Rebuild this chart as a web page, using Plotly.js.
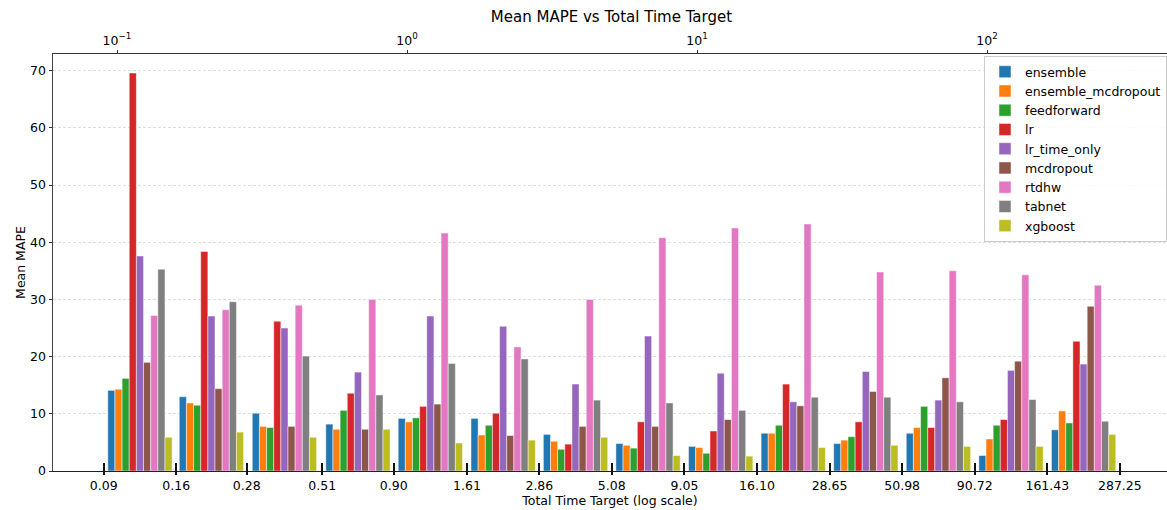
<!DOCTYPE html>
<html>
<head>
<meta charset="utf-8">
<script src="https://cdn.plot.ly/plotly-3.0.1.min.js"></script>
<style>html,body{margin:0;padding:0;background:#fff;}#chart{width:1167px;height:510px;}</style>
</head>
<body>
<div id="chart"></div>
<script>
// Bin edges of Total Time Target (tick labels on the bottom axis)
const edges = [0.09, 0.16, 0.28, 0.51, 0.90, 1.61, 2.86, 5.08, 9.05, 16.10, 28.65, 50.98, 90.72, 161.43, 287.25];
const edgeLabels = ['0.09','0.16','0.28','0.51','0.90','1.61','2.86','5.08','9.05','16.10','28.65','50.98','90.72','161.43','287.25'];
// Top axis decades
const decades = [0.1, 1, 10, 100];
const decadeLabels = ['10<sup>\u22121</sup>', '10<sup>0</sup>', '10<sup>1</sup>', '10<sup>2</sup>'];

const seriesNames = ['ensemble','ensemble_mcdropout','feedforward','lr','lr_time_only','mcdropout','rtdhw','tabnet','xgboost'];
const colors = ['#1f77b4','#ff7f0e','#2ca02c','#d62728','#9467bd','#8c564b','#e377c2','#7f7f7f','#bcbd22'];

// Mean MAPE per bin (14 bins)
const ensemble           = [14.1, 13.0, 10.1, 8.2, 9.2, 9.2, 6.4, 4.8, 4.3, 6.6, 4.8, 6.6, 2.7, 7.2];
const ensemble_mcdropout = [14.3, 11.9, 7.8, 7.3, 8.6, 6.3, 5.2, 4.5, 4.1, 6.6, 5.4, 7.6, 5.6, 10.5];
const feedforward        = [16.2, 11.5, 7.6, 10.6, 9.3, 8.0, 3.8, 4.0, 3.1, 8.0, 6.0, 11.3, 8.0, 8.4];
const lr                 = [69.6, 38.4, 26.2, 13.6, 11.3, 10.1, 4.7, 8.6, 7.0, 15.2, 8.6, 7.6, 9.0, 22.7];
const lr_time_only       = [37.6, 27.1, 25.0, 17.3, 27.1, 25.3, 15.2, 23.6, 17.1, 12.1, 17.4, 12.4, 17.6, 18.7];
const mcdropout          = [19.0, 14.4, 7.8, 7.3, 11.7, 6.2, 7.8, 7.8, 9.0, 11.4, 13.9, 16.3, 19.2, 28.8];
const rtdhw              = [27.2, 28.2, 29.0, 30.0, 41.6, 21.7, 30.0, 40.8, 42.5, 43.2, 34.8, 35.0, 34.3, 32.5];
const tabnet             = [35.3, 29.6, 20.1, 13.3, 18.8, 19.6, 12.4, 11.9, 10.6, 12.9, 12.9, 12.1, 12.5, 8.7];
const xgboost            = [5.9, 6.8, 5.9, 7.3, 4.9, 5.4, 5.9, 2.7, 2.6, 4.1, 4.5, 4.3, 4.3, 6.4];
const seriesValues = [ensemble, ensemble_mcdropout, feedforward, lr, lr_time_only, mcdropout, rtdhw, tabnet, xgboost];

const logEdges = edges.map(v => Math.log10(v));
const centers = [];
for (let i = 0; i < edges.length - 1; i++) centers.push((logEdges[i] + logEdges[i + 1]) / 2);

const xRange = [-1.2207, 2.6207];
const font = {family: 'DejaVu Sans, sans-serif', size: 12.5, color: '#000'};

const traces = seriesNames.map((name, k) => ({
  type: 'bar', name: name, x: centers, y: seriesValues[k],
  marker: {color: colors[k], line: {color: 'rgba(255,255,255,0.8)', width: 0.6}},
  xaxis: 'x', yaxis: 'y', hoverinfo: 'name+y'
}));
traces.push({type: 'scatter', x: [], y: [], xaxis: 'x2', yaxis: 'y', showlegend: false, hoverinfo: 'skip'});
traces.push({type: 'scatter', x: [], y: [], xaxis: 'x3', yaxis: 'y', showlegend: false, hoverinfo: 'skip'});

const layout = {
  width: 1167, height: 510,
  margin: {l: 53, r: 0, t: 54, b: 39},
  paper_bgcolor: '#fff', plot_bgcolor: '#fff',
  font: font,
  barmode: 'group', bargap: 0.1, bargroupgap: 0,
  showlegend: true,
  title: {text: 'Mean MAPE vs Total Time Target', font: {family: font.family, size: 15, color: '#000'},
          xref: 'paper', x: 0.5013, xanchor: 'center', yref: 'container', y: 1 - 17 / 510, yanchor: 'middle'},
  // bottom axis: bin-edge ticks crossing the spine
  xaxis: {
    range: xRange, anchor: 'free', position: 0.0216, side: 'bottom',
    tickmode: 'array', tickvals: logEdges, ticktext: edgeLabels,
    ticks: 'outside', ticklen: 12.5, tickwidth: 2, tickcolor: '#111',
    showline: false, showgrid: false, zeroline: false,
    tickfont: font, automargin: false, layer: 'above traces',
    title: {text: 'Total Time Target (log scale)', font: font, standoff: 2}
  },
  // top axis: log decades
  xaxis2: {
    overlaying: 'x', side: 'top', anchor: 'y', range: xRange,
    tickmode: 'array', tickvals: decades.map(v => Math.log10(v)), ticktext: decadeLabels,
    ticks: 'outside', ticklen: 3.5, tickcolor: '#333',
    showline: true, linecolor: '#333', linewidth: 1, showgrid: false, zeroline: false,
    tickfont: font, automargin: false
  },
  // bottom spine
  xaxis3: {
    overlaying: 'x', side: 'bottom', anchor: 'y', range: xRange,
    ticks: '', showticklabels: false, showline: true, linecolor: '#222', linewidth: 1,
    showgrid: false, zeroline: false, automargin: false
  },
  yaxis: {
    range: [0, 72.92], tickmode: 'linear', tick0: 0, dtick: 10,
    ticks: 'outside', ticklen: 3.5, tickcolor: '#333',
    showline: true, linecolor: '#444', linewidth: 1,
    showgrid: true, gridcolor: '#d4d4d4', griddash: '3px,2px', gridwidth: 0.8, zeroline: false,
    tickfont: font, automargin: false,
    title: {text: 'Mean MAPE', font: font, standoff: 1}
  },
  legend: {
    x: 1, xanchor: 'right', y: 0.995, yanchor: 'top',
    bgcolor: 'rgba(255,255,255,0.85)', bordercolor: '#cccccc', borderwidth: 1,
    font: font
  }
};

Plotly.newPlot('chart', traces, layout, {displayModeBar: false, staticPlot: true});
</script>
</body>
</html>
